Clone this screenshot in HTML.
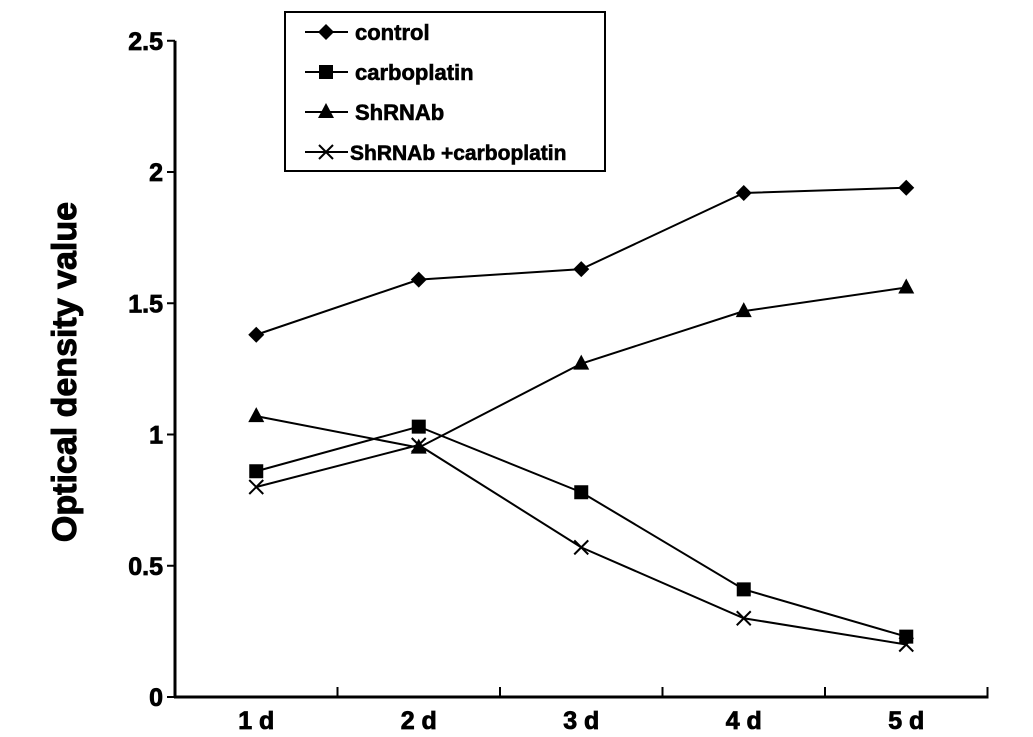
<!DOCTYPE html>
<html><head><meta charset="utf-8"><style>
body{margin:0;background:#fff}
svg{display:block}
text{font-family:"Liberation Sans",Arial,sans-serif;font-weight:bold;fill:#000}
</style></head><body>
<svg id="chart" width="1033" height="737"></svg>
<script>
const categories=["1 d","2 d","3 d","4 d","5 d"];
const yTicks=[0,0.5,1,1.5,2,2.5];
const yTickLabels=["0","0.5","1","1.5","2","2.5"];
const control=[1.38,1.59,1.63,1.92,1.94];
const carboplatin=[0.86,1.03,0.78,0.41,0.23];
const shrnab=[1.07,0.95,1.27,1.47,1.56];
const combo=[0.80,0.96,0.57,0.30,0.20];
const seriesNames=["control","carboplatin","ShRNAb","ShRNAb +carboplatin"];

const NS="http://www.w3.org/2000/svg";
const svg=document.getElementById('chart');
const X0=175,SEG=162.5,Y0=697,UNIT=262.5;
const xScale=i=>X0+SEG*(i+0.5);
const yScale=v=>Y0-v*UNIT;
function mk(tag,attrs,parent){const e=document.createElementNS(NS,tag);for(const k in attrs)e.setAttribute(k,attrs[k]);(parent||svg).appendChild(e);return e;}

let ax=mk('line',{x1:X0,y1:yScale(2.5),x2:X0,y2:Y0,stroke:'#000','stroke-width':3});


let bx=mk('line',{x1:X0-1,y1:Y0,x2:X0+SEG*5+1,y2:Y0,stroke:'#000','stroke-width':3});


yTicks.forEach((v,i)=>{
  const t=mk('line',{x1:X0-8,y1:yScale(v),x2:X0,y2:yScale(v),stroke:'#000','stroke-width':2});
  
  
  const l=mk('text',{x:X0-12,y:yScale(v)+9,'text-anchor':'end','font-size':25,stroke:'#000','stroke-width':0.8});
  l.textContent=yTickLabels[i];
  
  
});
for(let k=1;k<=5;k++){
  const t=mk('line',{x1:X0+SEG*k,y1:Y0-10,x2:X0+SEG*k,y2:Y0,stroke:'#000','stroke-width':2});
  
  
}
categories.forEach((c,i)=>{
  const l=mk('text',{x:xScale(i),y:729,'text-anchor':'middle','font-size':25,stroke:'#000','stroke-width':0.8});
  l.textContent=c;
  
  
});
const yt=mk('text',{x:0,y:0,'text-anchor':'middle','font-size':34,stroke:'#000','stroke-width':1,transform:'translate(76,372) rotate(-90)'});
yt.textContent='Optical density value';



function marker(type,x,y,g){
  if(type==='diamond')mk('polygon',{points:`${x},${y-8} ${x+8},${y} ${x},${y+8} ${x-8},${y}`,fill:'#000'},g);
  else if(type==='square')mk('rect',{x:x-7,y:y-7,width:14,height:14,fill:'#000'},g);
  else if(type==='triangle')mk('polygon',{points:`${x},${y-9} ${x+8},${y+6} ${x-8},${y+6}`,fill:'#000'},g);
  else{mk('path',{d:`M${x-7},${y-7}L${x+7},${y+7}M${x+7},${y-7}L${x-7},${y+7}`,stroke:'#000','stroke-width':2},g);}
}
const allSeries=[control,carboplatin,shrnab,combo];
const types=['diamond','square','triangle','cross'];
const snames=['series-control','series-carboplatin','series-shrnab','series-shrnab-carboplatin'];
allSeries.forEach((s,si)=>{
  const g=mk('g',{});
  
  
  mk('polyline',{points:s.map((v,i)=>xScale(i)+','+yScale(v)).join(' '),fill:'none',stroke:'#000','stroke-width':2},g);
  s.forEach((v,i)=>marker(types[si],xScale(i),yScale(v),g));
});

const lg=mk('g',{});


mk('rect',{x:285,y:12,width:320,height:159,fill:'#fff',stroke:'#000','stroke-width':2},lg);
seriesNames.forEach((n,i)=>{
  const y=32+i*40;
  const e=mk('g',{},lg);
  
  
  mk('line',{x1:305,y1:y,x2:348,y2:y,stroke:'#000','stroke-width':2},e);
  marker(types[i],326,y,e);
  const t=mk('text',{x:i===3?350:355,y:y+8,'font-size':i===3?21:22,stroke:'#000','stroke-width':0.6},e);
  t.textContent=n;
});
</script>
</body></html>
